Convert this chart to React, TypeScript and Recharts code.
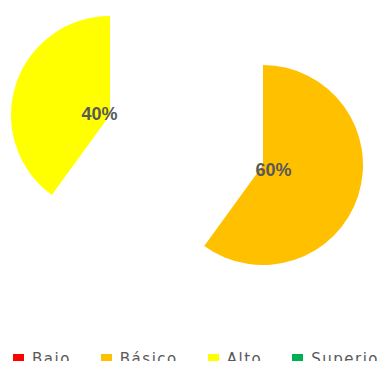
import { PieChart, Pie, Cell } from 'recharts';

const categories = ['Bajo', 'Básico', 'Alto', 'Superior'];
const values = [0, 60, 40, 0];
const colors = ['#FF0000', '#FFC000', '#FFFF00', '#00B050'];

const data = categories.map((name, i) => ({ name, value: values[i] }));

const RAD = Math.PI / 180;

// each slice is drawn by its own pie so it can be pulled out on its own
const makeLabel = (only: string) => (props: any) => {
    if (props.name !== only) return null;
    const r = 11;
    const x = props.cx + Math.cos(-props.midAngle * RAD) * r;
    const y = props.cy + Math.sin(-props.midAngle * RAD) * r + 2;
    return (
        <text x={x} y={y} textAnchor="middle" dominantBaseline="central"
            fill="#595959" fontSize={18} fontWeight="bold" fontFamily="Liberation Sans, Arial, sans-serif">
            {`${Math.round(props.percent * 100)}%`}
        </text>
    );
};

export default function App() {
    return (
        <div style={{ position: 'relative', width: 388, height: 369, margin: -8, overflow: 'hidden', background: '#fff' }}>
            <PieChart width={388} height={369} margin={{ top: 0, right: 0, bottom: 0, left: 0 }}>
                <Pie data={data} dataKey="value" nameKey="name" cx={263} cy={165} outerRadius={100}
                    startAngle={90} endAngle={-270} isAnimationActive={false} label={makeLabel('Básico')} labelLine={false}>
                    {data.map((d, i) => (
                        <Cell key={`b-${i}`} fill={d.name === 'Básico' ? colors[i] : 'transparent'} stroke="none" />
                    ))}
                </Pie>
                <Pie data={data} dataKey="value" nameKey="name" cx={110} cy={115} outerRadius={99}
                    startAngle={90} endAngle={-270} isAnimationActive={false} label={makeLabel('Alto')} labelLine={false}>
                    {data.map((d, i) => (
                        <Cell key={`a-${i}`} fill={d.name === 'Alto' ? colors[i] : 'transparent'} stroke="none" />
                    ))}
                </Pie>
            </PieChart>

            {/* legend along the bottom */}
            <div style={{
                position: 'absolute', left: 13, top: 352, display: 'flex', alignItems: 'center', whiteSpace: 'nowrap',
                fontFamily: 'DejaVu Sans, sans-serif', fontSize: 15, lineHeight: '15px', color: '#595959', letterSpacing: 1.5,
            }}>
                {categories.map((c, i) => (
                    <div key={c} style={{ display: 'flex', alignItems: 'center', marginRight: 30 }}>
                        <span style={{ width: 11, height: 11, background: colors[i], marginRight: 8, display: 'inline-block' }} />
                        <span>{c}</span>
                    </div>
                ))}
            </div>
        </div>
    );
}
